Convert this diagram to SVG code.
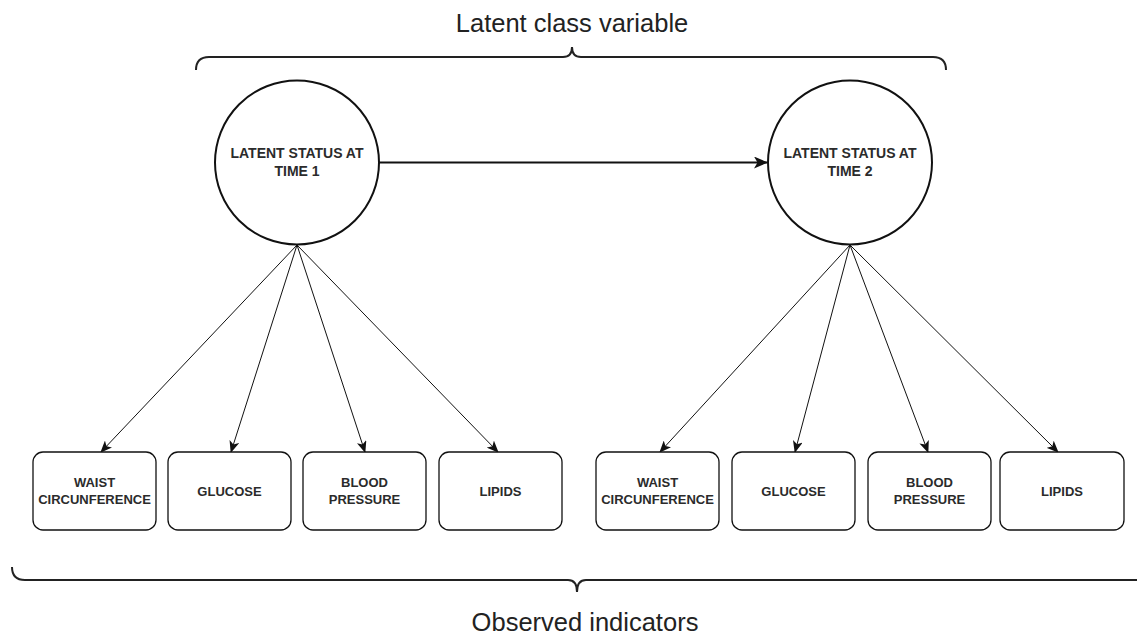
<svg xmlns="http://www.w3.org/2000/svg" width="1137" height="635" viewBox="0 0 1137 635">
<style>
.node { fill: #fff; stroke: #111; stroke-width: 1.3; }
.circ { fill: #fff; stroke: #111; stroke-width: 2; }
.lbl { font-family: "Liberation Sans", Arial, sans-serif; font-weight: bold; fill: #2b2b2b; text-anchor: middle; }
.big { font-family: "Liberation Sans", Arial, sans-serif; font-size: 25.5px; fill: #222; text-anchor: middle; }
.edge { stroke: #111; stroke-width: 1; fill: none; marker-end: url(#ah); }
.brace { stroke: #222; stroke-width: 2; fill: none; }
</style>
<defs>
<marker id="ah" markerUnits="userSpaceOnUse" viewBox="0 0 12 10" markerWidth="12" markerHeight="10" refX="11" refY="5" orient="auto">
<path d="M0,0 L12,5 L0,10 L3,5 z" fill="#111"/>
</marker>
<marker id="ah2" markerUnits="userSpaceOnUse" viewBox="0 0 14 12" markerWidth="14" markerHeight="12" refX="13" refY="6" orient="auto">
<path d="M0,0 L14,6 L0,12 L3.5,6 z" fill="#111"/>
</marker>
</defs>

<g id="brace-top">
<path class="brace" d="M196,70 Q196,57 209,57 L563,57 Q572,57 572,47 Q572,57 581,57 L933,57 Q946,57 946,70"/>
<text class="big" x="572" y="31.5">Latent class variable</text>
</g>

<g id="brace-bottom">
<path class="brace" d="M12,567 Q12,580 25,580 L568,580 Q577,580 577,592 Q577,580 586,580 L1140,580"/>
<text class="big" x="585" y="631">Observed indicators</text>
</g>

<g id="connectors">
<line x1="378.5" y1="162.5" x2="767" y2="162.5" stroke="#111" stroke-width="2" marker-end="url(#ah2)"/>
<line class="edge" x1="297" y1="245" x2="101" y2="452"/>
<line class="edge" x1="297" y1="245" x2="231" y2="452"/>
<line class="edge" x1="297" y1="245" x2="365" y2="452"/>
<line class="edge" x1="297" y1="245" x2="498" y2="452"/>
<line class="edge" x1="850" y1="245" x2="660" y2="452"/>
<line class="edge" x1="850" y1="245" x2="795" y2="452"/>
<line class="edge" x1="850" y1="245" x2="928" y2="452"/>
<line class="edge" x1="850" y1="245" x2="1058" y2="452"/>
</g>

<g id="latent1">
<circle class="circ" cx="297" cy="162.5" r="82"/>
<text class="lbl" font-size="14" x="297" y="158">LATENT STATUS AT</text>
<text class="lbl" font-size="14" x="297" y="176">TIME 1</text>
</g>
<g id="latent2">
<circle class="circ" cx="850" cy="162.5" r="82"/>
<text class="lbl" font-size="14" x="850" y="158">LATENT STATUS AT</text>
<text class="lbl" font-size="14" x="850" y="176">TIME 2</text>
</g>

<g id="waist1">
<rect class="node" x="33" y="452" width="123" height="78" rx="10"/>
<text class="lbl" font-size="13" x="94.5" y="486.5">WAIST</text>
<text class="lbl" font-size="13" x="94.5" y="504">CIRCUNFERENCE</text>
</g>
<g id="glucose1">
<rect class="node" x="168" y="452" width="123" height="78" rx="10"/>
<text class="lbl" font-size="13" x="229.5" y="495.5">GLUCOSE</text>
</g>
<g id="bp1">
<rect class="node" x="303" y="452" width="123" height="78" rx="10"/>
<text class="lbl" font-size="13" x="364.5" y="486.5">BLOOD</text>
<text class="lbl" font-size="13" x="364.5" y="504">PRESSURE</text>
</g>
<g id="lipids1">
<rect class="node" x="439" y="452" width="123" height="78" rx="10"/>
<text class="lbl" font-size="13" x="500.5" y="495.5">LIPIDS</text>
</g>

<g id="waist2">
<rect class="node" x="596" y="452" width="123" height="78" rx="10"/>
<text class="lbl" font-size="13" x="657.5" y="486.5">WAIST</text>
<text class="lbl" font-size="13" x="657.5" y="504">CIRCUNFERENCE</text>
</g>
<g id="glucose2">
<rect class="node" x="732" y="452" width="123" height="78" rx="10"/>
<text class="lbl" font-size="13" x="793.5" y="495.5">GLUCOSE</text>
</g>
<g id="bp2">
<rect class="node" x="868" y="452" width="123" height="78" rx="10"/>
<text class="lbl" font-size="13" x="929.5" y="486.5">BLOOD</text>
<text class="lbl" font-size="13" x="929.5" y="504">PRESSURE</text>
</g>
<g id="lipids2">
<rect class="node" x="1000" y="452" width="124" height="78" rx="10"/>
<text class="lbl" font-size="13" x="1062" y="495.5">LIPIDS</text>
</g>
</svg>
